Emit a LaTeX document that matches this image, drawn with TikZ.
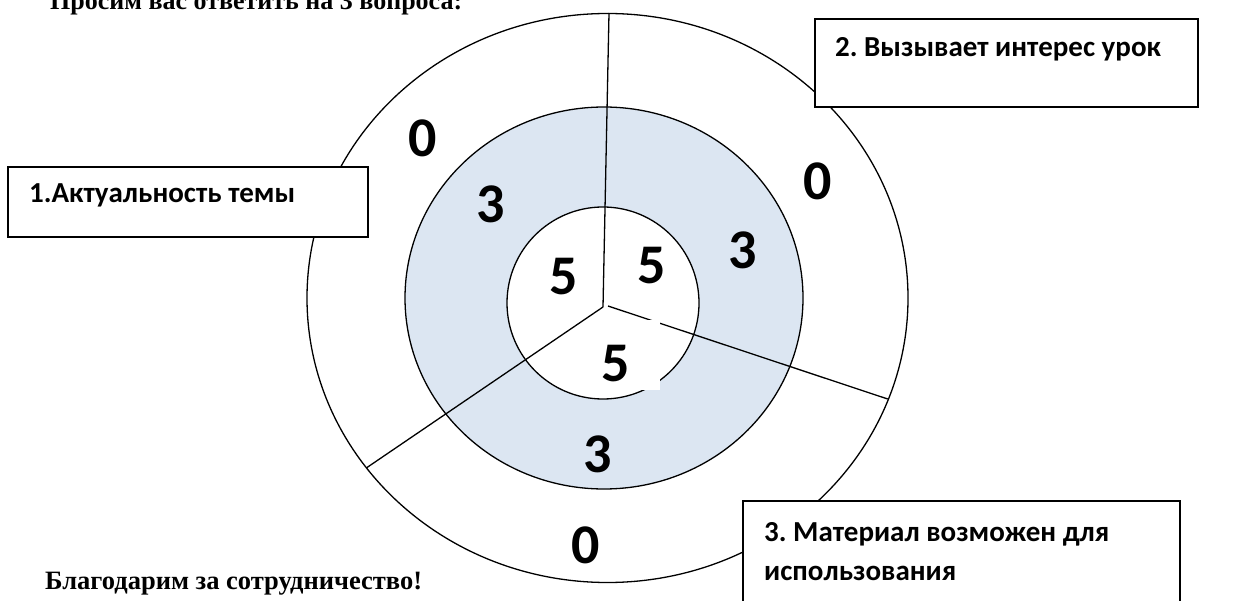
\documentclass[tikz,border=0pt]{standalone}
\usepackage{fontspec}
\setmainfont{Liberation Serif}
\newfontfamily\calib{Carlito}
\definecolor{ringblue}{HTML}{DCE6F2}
\frenchspacing
\begin{document}
\begin{tikzpicture}[x=1pt,y=-1pt,
  ringline/.style={draw=black,line width=1.3pt},
  spoke/.style={draw=black,line width=1.3pt},
  qbox/.style={draw=black,fill=white,line width=1.3pt},
  digit/.style={font=\calib\bfseries\fontsize{56}{56}\selectfont,inner sep=0pt},
  qtext/.style={font=\calib\bfseries\fontsize{29}{39}\selectfont,inner sep=0pt,anchor=base west},
  serifnote/.style={font=\bfseries\fontsize{26.5}{26.5}\selectfont,inner sep=0pt,anchor=base west}]
\useasboundingbox (0,0) rectangle (1242,601);
\clip (0,0) rectangle (1242,601);
% rings
\path[ringline,fill=white] (607.5,298) ellipse [x radius=300.5pt, y radius=284.5pt];
\path[ringline,fill=ringblue] (604,298) ellipse [x radius=199pt, y radius=191pt];
\path[ringline,fill=white] (603,303) ellipse [x radius=96pt, y radius=96pt];
% spokes
\coordinate (c) at (603,307);
\coordinate (c2) at (608,306);
\coordinate (s1) at (609,13);
\coordinate (s2) at (887.7,399);
\coordinate (s3) at (366.7,467.7);
\draw[spoke] (c) -- (s1);
\draw[spoke] (c2) -- (s2);
\draw[spoke] (c) -- (s3);
% white patch behind bottom 5
\fill[white] (595,320) rectangle (660,390);
% scores
\node[digit] (o1) at (423,138) {0};
\node[digit] (o2) at (818,181) {0};
\node[digit] (o3) at (586,545) {0};
\node[digit] (m1) at (491,204.5) {3};
\node[digit] (m2) at (743,250) {3};
\node[digit] (m3) at (598,454) {3};
\node[digit] (i1) at (563.5,276.5) {5};
\node[digit] (i2) at (651.5,266) {5};
\node[digit] (i3) at (616,364) {5};
% question boxes
\path[qbox] (8,167) rectangle (368,237);
\node[qtext] (q1) at (29,203) {1.Актуальность темы};
\path[qbox] (815,19) rectangle (1198,107);
\node[qtext] (q2) at (835,57) {2. Вызывает интерес урок};
\path[qbox] (743,501) rectangle (1180,640);
\node[qtext] (q3) at (764,541) {3. Материал возможен для};
\node[qtext] (q3b) at (764,580) {использования};
% notes
\node[serifnote,font=\bfseries\fontsize{26}{26}\selectfont] (top) at (50,10) {Просим вас ответить на 3 вопроса:};
\node[serifnote] (bottom) at (45,589) {Благодарим за сотрудничество!};
\end{tikzpicture}
\end{document}
